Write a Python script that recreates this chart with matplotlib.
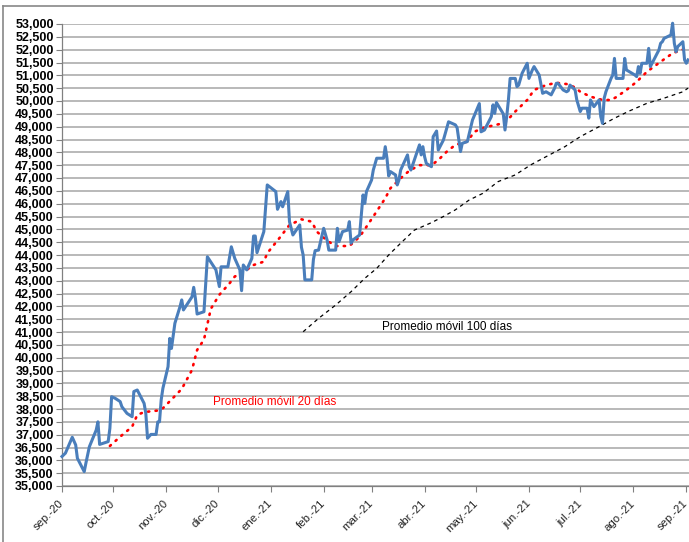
import matplotlib
matplotlib.use("Agg")
import matplotlib.pyplot as plt
import pandas as pd
from matplotlib.ticker import MultipleLocator, FuncFormatter

# ---------------- data ----------------
main_dates = [
"2020-09-01","2020-09-03","2020-09-07","2020-09-09","2020-09-10","2020-09-14","2020-09-15","2020-09-17","2020-09-21","2020-09-22","2020-09-23","2020-09-28","2020-09-29","2020-09-30",
"2020-10-02","2020-10-05","2020-10-06","2020-10-09","2020-10-12","2020-10-13","2020-10-15","2020-10-19","2020-10-20","2020-10-21","2020-10-23","2020-10-26","2020-10-27","2020-10-28","2020-10-29","2020-10-30",
"2020-11-02","2020-11-03","2020-11-04","2020-11-06","2020-11-09","2020-11-10","2020-11-11","2020-11-16","2020-11-17","2020-11-18","2020-11-19","2020-11-23","2020-11-25","2020-11-30",
"2020-12-02","2020-12-03","2020-12-07","2020-12-09","2020-12-11","2020-12-14","2020-12-15","2020-12-16","2020-12-18","2020-12-21","2020-12-22","2020-12-23","2020-12-24","2020-12-28","2020-12-30",
"2021-01-04","2021-01-05","2021-01-07","2021-01-08","2021-01-11","2021-01-12","2021-01-14","2021-01-18","2021-01-19","2021-01-20","2021-01-21","2021-01-25","2021-01-26","2021-01-27","2021-01-29",
"2021-02-01","2021-02-03","2021-02-04","2021-02-08","2021-02-09","2021-02-10","2021-02-12","2021-02-15","2021-02-16","2021-02-17","2021-02-18","2021-02-22","2021-02-24","2021-02-25","2021-02-26",
"2021-03-01","2021-03-02","2021-03-04","2021-03-08","2021-03-09","2021-03-10","2021-03-11","2021-03-12","2021-03-15","2021-03-16","2021-03-17","2021-03-18","2021-03-22","2021-03-23","2021-03-24","2021-03-29","2021-03-30","2021-03-31",
"2021-04-01","2021-04-02","2021-04-05","2021-04-06","2021-04-08","2021-04-09","2021-04-12","2021-04-15","2021-04-19","2021-04-20","2021-04-21","2021-04-22","2021-04-23","2021-04-26","2021-04-29",
"2021-05-03","2021-05-04","2021-05-06","2021-05-10","2021-05-11","2021-05-12","2021-05-13","2021-05-17","2021-05-18","2021-05-19","2021-05-20","2021-05-21","2021-05-24","2021-05-25","2021-05-26","2021-05-28","2021-05-31",
"2021-06-01","2021-06-03","2021-06-04","2021-06-07","2021-06-09","2021-06-11","2021-06-14","2021-06-16","2021-06-17","2021-06-18","2021-06-21","2021-06-23","2021-06-24","2021-06-25","2021-06-28","2021-06-29",
"2021-07-01","2021-07-02","2021-07-05","2021-07-06","2021-07-07","2021-07-09","2021-07-12","2021-07-13","2021-07-14","2021-07-15","2021-07-16","2021-07-19","2021-07-20","2021-07-21","2021-07-22","2021-07-26","2021-07-27","2021-07-28",
"2021-08-02","2021-08-03","2021-08-04","2021-08-05","2021-08-06","2021-08-09","2021-08-10","2021-08-11","2021-08-13","2021-08-16","2021-08-17","2021-08-18","2021-08-19","2021-08-23","2021-08-24","2021-08-25","2021-08-26","2021-08-27","2021-08-30","2021-08-31",
"2021-09-01","2021-09-02"]
main_values = [
36150,36280,36900,36600,36080,35560,35900,36530,37180,37500,36620,36730,37250,38480,
38420,38290,38090,37830,37700,38680,38740,38220,37830,36860,37010,37010,37500,37500,38360,38810,
39650,40750,40360,41340,41990,42250,41860,42370,42740,42310,41700,41790,43930,43420,
42770,43540,43540,44320,43870,43420,42610,43610,43420,43870,44740,44740,44090,44910,46730,
46470,45780,46080,45880,46470,45300,44780,45170,44300,44000,43030,43030,43830,44170,44190,
45040,44580,44190,44190,45040,44520,44910,44970,45300,44460,44580,44780,46340,46010,46470,
46920,47310,47770,47770,48220,47770,47080,47250,47120,46730,46920,47310,47900,47440,47310,48290,47900,48220,
47830,47570,47440,48610,48830,48090,48480,49190,49070,48960,48480,48030,48350,48420,49260,
49900,48800,48870,49390,49850,49520,49940,49500,48870,49390,50040,50880,50880,50560,50620,51080,51470,
50880,51210,51340,51010,50300,50360,50240,50500,50690,50690,50430,50360,50400,50620,50430,50040,
49590,49720,49720,49330,50040,49780,50040,49390,49130,50110,50360,50880,51010,51660,50880,50880,51660,51210,
51010,50950,51340,51080,51470,51470,52050,51340,51600,51990,52250,52310,52440,52570,53030,52250,51920,52120,52310,51600,
51470,51600]

ma20_dates = ["2020-09-29","2020-10-05","2020-10-12","2020-10-15","2020-10-19","2020-10-27","2020-10-30",
"2020-11-03","2020-11-10","2020-11-16","2020-11-19","2020-11-23","2020-11-25","2020-11-27","2020-12-02",
"2020-12-08","2020-12-11","2020-12-18","2020-12-22","2020-12-28","2020-12-30",
"2021-01-06","2021-01-12","2021-01-19","2021-01-25","2021-01-28","2021-02-03","2021-02-08","2021-02-16",
"2021-02-22","2021-02-26","2021-03-03","2021-03-09","2021-03-12","2021-03-19","2021-03-23","2021-03-29",
"2021-04-05","2021-04-09","2021-04-14","2021-04-19","2021-04-26","2021-04-30","2021-05-06","2021-05-12",
"2021-05-18","2021-05-24","2021-05-31","2021-06-04","2021-06-11","2021-06-17","2021-06-23","2021-06-28",
"2021-07-01","2021-07-07","2021-07-14","2021-07-19","2021-07-22","2021-07-28","2021-08-03","2021-08-09",
"2021-08-17","2021-08-24","2021-08-30","2021-09-02"]
ma20_values = [36560,36920,37310,37770,37880,37940,38030,
38300,38780,39520,40300,40700,41300,41900,42450,
42900,43160,43420,43610,43740,44070,
44650,45170,45390,45300,44910,44560,44350,44350,
44710,45100,45600,46210,46600,47050,47280,47500,
47500,47700,48030,48290,48420,48800,48970,49060,
49150,49590,50040,50430,50620,50710,50660,50530,
50360,50170,50040,50040,50150,50430,50750,51140,
51530,51860,52010,52120]

ma100_dates = ["2021-01-20","2021-01-29","2021-02-08","2021-02-17","2021-02-25","2021-03-04","2021-03-11",
"2021-03-18","2021-03-26","2021-04-05","2021-04-12","2021-04-19","2021-04-27","2021-05-05","2021-05-14",
"2021-05-24","2021-06-02","2021-06-11","2021-06-22","2021-07-01","2021-07-12","2021-07-21","2021-07-30",
"2021-08-09","2021-08-19","2021-08-30","2021-09-02"]
ma100_values = [41010,41530,42050,42570,43090,43480,44000,
44460,44970,45260,45500,45760,46140,46400,46860,
47120,47510,47830,48220,48610,49000,49330,49620,
49910,50110,50360,50500]

month_ticks = ["2020-09-01","2020-10-01","2020-11-01","2020-12-01","2021-01-01","2021-02-01","2021-03-01",
"2021-04-01","2021-05-01","2021-06-01","2021-07-01","2021-08-01","2021-09-01"]
month_labels = ["sep.-20","oct.-20","nov.-20","dic.-20","ene.-21","feb.-21","mar.-21",
"abr.-21","may.-21","jun.-21","jul.-21","ago.-21","sep.-21"]

label_100 = "Promedio móvil 100 días"
label_20 = "Promedio móvil 20 días"

# ---------------- plot ----------------
plt.rcParams['font.family'] = ['Liberation Sans', 'DejaVu Sans']

W, H = 689, 542
fig = plt.figure(figsize=(W/100, H/100), dpi=100)
ax = fig.add_axes([62/W, 1-486/H, (W-62)/W, (486-24)/H])

md = pd.to_datetime(main_dates)
ax.plot(pd.to_datetime(ma100_dates), ma100_values, color='black', lw=0.9,
        linestyle=(0, (3, 3)), zorder=3)
ax.plot(pd.to_datetime(ma20_dates), ma20_values, color='#ff0000', lw=1.9,
        linestyle=(0, (0.5, 2.4)), dash_capstyle='round', zorder=4)
ax.plot(md, main_values, color='#4a7ebb', lw=2.2, zorder=5, clip_on=False,
        solid_joinstyle='round')

ax.set_ylim(35000, 53000)
ax.set_xlim(pd.Timestamp("2020-09-01"), pd.Timestamp("2021-09-02 14:00"))
ax.yaxis.set_major_locator(MultipleLocator(500))
ax.yaxis.set_major_formatter(FuncFormatter(lambda v, p: f"{int(v):,}"))
ax.grid(axis='y', color='#a6a6a6', lw=1.1)
ax.set_axisbelow(True)

tick_pos = pd.to_datetime(month_ticks)
ax.set_xticks(tick_pos)
ax.set_xticklabels([])
for pos, lab in zip(tick_pos, month_labels):
    ax.annotate(lab, xy=(pos, 0), xycoords=('data', 'axes fraction'),
                xytext=(-2.5, -9), textcoords='offset points',
                rotation=45, ha='right', va='top', rotation_mode='anchor',
                fontsize=8.2, color='#222222', annotation_clip=False)
for lab in ax.get_yticklabels():
    lab.set_fontweight('bold')
    lab.set_fontsize(9)
ax.tick_params(axis='y', length=4, width=0.8, color='#808080', pad=2)
ax.tick_params(axis='x', length=4, width=0.8, color='#808080', pad=3)

for s in ['top', 'right']:
    ax.spines[s].set_visible(False)
for s in ['left', 'bottom']:
    ax.spines[s].set_color('#808080')
    ax.spines[s].set_linewidth(0.9)

ax.text(pd.Timestamp("2021-03-07"), 41200, label_100, fontsize=8.5, color='black',
        ha='left', va='center')
ax.text(pd.Timestamp("2020-11-28"), 38270, label_20, fontsize=8.5, color='#ff0000',
        ha='left', va='center')

# outer chart border (left and top visible)
fig.add_artist(plt.Line2D([3/W, 3/W], [0, 1-6/H], color='#888888', lw=1.2))
fig.add_artist(plt.Line2D([3/W, 1], [1-6/H, 1-6/H], color='#888888', lw=1.2))

fig.savefig("out.png", dpi=100)
